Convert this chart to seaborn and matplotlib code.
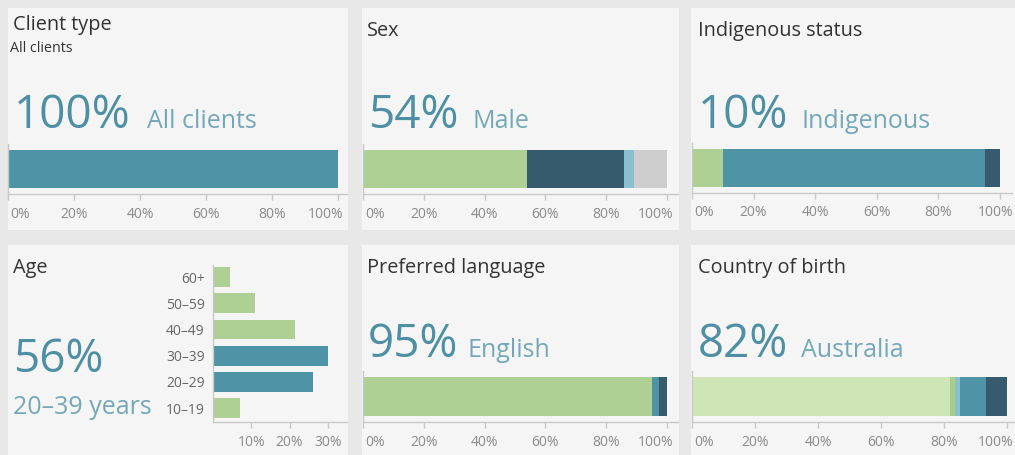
import numpy as np
import pandas as pd
import matplotlib
matplotlib.use("Agg")
import matplotlib.pyplot as plt
from matplotlib.patches import Rectangle
from matplotlib.text import Annotation
from matplotlib.ticker import FuncFormatter
from matplotlib.transforms import offset_copy
import seaborn as sns

sns.set_theme(style="white")
plt.rcParams["font.family"] = ["Open Sans", "DejaVu Sans"]

# ---- data (percent of clients) ----
client_segments = ["All clients"]
client_values = [100]

sex_segments = ["Male", "Female", "Other", "Not stated"]
sex_values = [54, 32, 3, 11]

indigenous_segments = ["Indigenous", "Non-Indigenous", "Not stated"]
indigenous_values = [10, 85, 5]

language_segments = ["English", "Other language", "Not stated"]
language_values = [95, 2.5, 2.5]

birth_segments = ["Australia", "New Zealand", "United Kingdom", "Other country", "Not stated"]
birth_values = [82, 1.5, 1.5, 8.3, 6.7]

age_groups = ["60+", "50–59", "40–49", "30–39", "20–29", "10–19"]
age_values = [4.5, 11, 21.5, 30, 26, 7]
age_highlight = ["30–39", "20–29"]

# ---- palette ----
TEAL = "#4f93a6"
NAVY = "#355b6d"
GREEN = "#afd094"
LBLUE = "#89bfcf"
GREY = "#cdcdcd"
LGREEN = "#cee6b5"
MGREEN = "#a8ce8a"
NUM_COLOR = "#4e8fa3"
LABEL_COLOR = "#74a8b8"
TITLE_COLOR = "#333333"
AXIS_COLOR = "#c8c8c8"
TICK_COLOR = "#8a8a8a"
PANEL_BG = "#f5f5f5"
PAGE_BG = "#e8e8e8"

W, H = 1015, 455
fig = plt.figure(figsize=(W / 100, H / 100), dpi=100)
fig.patch.set_facecolor(PAGE_BG)


def rect(x0, y0, x1, y1):
    return [x0 / W, 1 - y1 / H, (x1 - x0) / W, (y1 - y0) / H]


def fy(y):
    return 1 - y / H


# panel cards, kept underneath every axes
for x0, y0, x1, y1 in [(8, 8, 348, 230), (362, 8, 679, 230), (691, 8, 1020, 230),
                       (8, 245, 348, 460), (362, 245, 679, 460), (691, 245, 1020, 460)]:
    fig.patches.append(Rectangle((x0 / W, fy(y1)), (x1 - x0) / W, (y1 - y0) / H,
                                 transform=fig.transFigure, facecolor=PANEL_BG,
                                 edgecolor="none", zorder=-10))

pct = FuncFormatter(lambda v, _: f"{v:.0f}%")


def style_axis(ax):
    ax.set_facecolor("none")
    ax.set_xlabel("")
    ax.set_ylabel("")
    for side in ("top", "right"):
        ax.spines[side].set_visible(False)
    for side in ("left", "bottom"):
        ax.spines[side].set_color(AXIS_COLOR)
        ax.spines[side].set_linewidth(1)
    ax.xaxis.set_major_formatter(pct)
    ax.tick_params(axis="x", bottom=True, length=4, width=1, color=AXIS_COLOR,
                   labelsize=10, labelcolor=TICK_COLOR, pad=5)


def pull_in_edge_labels(ax, right_shift):
    # keep the 0% and 100% labels inside the card
    labels = ax.get_xticklabels()
    first, last = labels[0], labels[-1]
    first.set_ha("left")
    first.set_transform(offset_copy(first.get_transform(), fig=fig, x=2, units="dots"))
    last.set_ha("right")
    last.set_transform(offset_copy(last.get_transform(), fig=fig, x=right_shift, units="dots"))


def stacked_bar(box, values, colors, xmax, right_shift=6):
    ax = fig.add_axes(rect(*box))
    cum = np.cumsum(values)
    df = pd.DataFrame({"end": cum, "row": [""] * len(values), "color": colors})
    for i in reversed(range(len(values))):
        sns.barplot(data=df.iloc[[i]], x="end", y="row", orient="h",
                    color=df["color"].iloc[i], saturation=1, width=0.76,
                    linewidth=0, ax=ax)
    ax.set_xlim(0, xmax)
    ax.set_ylim(0.5, -0.5)
    ax.set_yticks([])
    ax.set_xticks([0, 20, 40, 60, 80, 100])
    style_axis(ax)
    pull_in_edge_labels(ax, right_shift)
    return ax


def title(x, y, s, size=14.3):
    fig.text(x / W, fy(y), s, fontsize=size, color=TITLE_COLOR, va="baseline")


def headline(x, y, value, label, gap):
    num = fig.text(x / W, fy(y), f"{round(value)}%", fontsize=33,
                   color=NUM_COLOR, va="baseline")
    ann = Annotation(label, xy=(1, fy(y)), xycoords=(num, fig.transFigure),
                     xytext=(gap, 0), textcoords="offset pixels",
                     fontsize=18, color=LABEL_COLOR, va="baseline",
                     annotation_clip=False)
    fig.add_artist(ann)
    return ann


# ---- Client type ----
title(13, 30, "Client type")
title(10, 52, "All clients", size=10.3)
stacked_bar((8, 144, 347, 194), client_values, [TEAL], 102.7, right_shift=5)
headline(14, 128, client_values[0], client_segments[0], 16)

# ---- Sex ----
title(367, 36, "Sex")
stacked_bar((363, 144, 678, 194), sex_values, [GREEN, NAVY, LBLUE, GREY], 103.6)
headline(368, 128, sex_values[0], sex_segments[0], 14)

# ---- Indigenous status ----
title(698, 36, "Indigenous status")
stacked_bar((692, 143, 1012, 193), indigenous_values, [GREEN, TEAL, NAVY], 103.9,
            right_shift=13)
headline(698, 128, indigenous_values[0], indigenous_segments[0], 13)

# ---- Preferred language ----
title(367, 273, "Preferred language")
stacked_bar((363, 371, 678, 422), language_values, [GREEN, TEAL, NAVY], 103.6)
headline(368, 357, language_values[0], language_segments[0], 9)

# ---- Country of birth ----
title(698, 273, "Country of birth")
stacked_bar((692, 371, 1015, 422), birth_values, [LGREEN, MGREEN, LBLUE, TEAL, NAVY], 102.5)
headline(698, 357, birth_values[0], birth_segments[0], 13)

# ---- Age ----
title(13, 273, "Age")
age_df = pd.DataFrame({"group": age_groups, "share": age_values})
age_palette = {g: (TEAL if g in age_highlight else GREEN) for g in age_groups}
ax_age = fig.add_axes(rect(213, 265, 347, 422))
sns.barplot(data=age_df, x="share", y="group", hue="group", palette=age_palette,
            order=age_groups, orient="h", saturation=1, width=0.76, linewidth=0,
            legend=False, ax=ax_age)
ax_age.set_xlim(0, 35)
ax_age.set_ylim(5.53, -0.46)
ax_age.set_xticks([10, 20, 30])
style_axis(ax_age)
ax_age.tick_params(axis="y", left=False, length=0, labelsize=10,
                   labelcolor="#666666", pad=6)
age_share = sum(v for g, v in zip(age_groups, age_values) if g in age_highlight)
fig.text(13 / W, fy(372), f"{round(age_share)}%", fontsize=33, color=NUM_COLOR, va="baseline")
fig.text(13 / W, fy(414), "20–39 years", fontsize=18, color=LABEL_COLOR, va="baseline")

fig.savefig("out.png", dpi=100, facecolor=fig.get_facecolor())
